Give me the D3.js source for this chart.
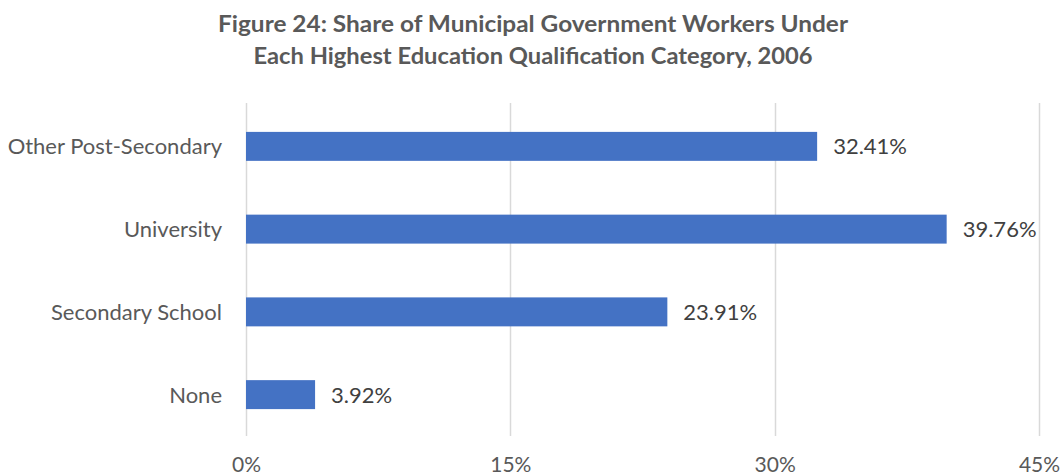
<!DOCTYPE html>
<html>
<head>
<meta charset="utf-8">
<script src="https://cdn.jsdelivr.net/npm/d3@7"></script>
<style>
  html, body { margin: 0; padding: 0; background: #fff; }
  svg { display: block; }
  text { font-family: Lato, "Open Sans", sans-serif; }
</style>
</head>
<body>
<svg id="chart" width="1062" height="475"></svg>
<script>
// Highest education qualification categories, top to bottom
const categories = ["Other Post-Secondary", "University", "Secondary School", "None"];
// Share of municipal government workers (%)
const shares = [32.41, 39.76, 23.91, 3.92];
// Horizontal axis ticks (%)
const tickValues = [0, 15, 30, 45];
const titleLines = [
  "Figure 24: Share of Municipal Government Workers Under",
  "Each Highest Education Qualification Category, 2006"
];

const svg = d3.select("#chart");
const plotLeft = 246, plotRight = 1039, plotTop = 105, plotBottom = 436;

const x = d3.scaleLinear().domain([0, 45]).range([plotLeft, plotRight]);
const y = d3.scaleBand().domain(categories).range([plotTop, plotBottom]).paddingInner(0.65).paddingOuter(0.325);

// Title, two centred lines
const titleWidths = [630, 559];
svg.append("g").selectAll("text")
  .data(titleLines)
  .join("text")
  .attr("x", 533)
  .attr("y", (d, i) => 32 + i * 32)
  .attr("text-anchor", "middle")
  .attr("font-size", 23)
  .attr("font-weight", 700)
  .attr("fill", "#595959")
  .attr("textLength", (d, i) => titleWidths[i])
  .attr("lengthAdjust", "spacingAndGlyphs")
  .text(d => d);

// Vertical gridlines
svg.append("g").selectAll("line")
  .data(tickValues)
  .join("line")
  .attr("x1", d => Math.round(x(d)) + 0.5)
  .attr("x2", d => Math.round(x(d)) + 0.5)
  .attr("y1", 103)
  .attr("y2", plotBottom)
  .attr("stroke", "#d9d9d9")
  .attr("stroke-width", 1.5);

// Bottom axis labels
const xAxis = d3.axisBottom(x).tickValues(tickValues).tickFormat(d => d + "%").tickSize(0).tickPadding(0);
const ax = svg.append("g").attr("transform", "translate(0, 472)").call(xAxis);
ax.select(".domain").remove();
ax.selectAll("text")
  .attr("y", 0)
  .attr("dy", 0)
  .attr("font-size", 21)
  .attr("fill", "#595959")
  .attr("font-family", "Lato, sans-serif");

// Category labels
const yAxis = d3.axisLeft(y).tickSize(0).tickPadding(0);
const ay = svg.append("g").attr("transform", "translate(222, 0)").call(yAxis);
ay.select(".domain").remove();
ay.selectAll("text")
  .attr("font-size", 22)
  .attr("fill", "#595959")
  .attr("dy", "0.36em")
  .attr("font-family", "Lato, sans-serif");

// Bars
const data = categories.map((c, i) => ({ c, v: shares[i] }));
svg.append("g").selectAll("rect")
  .data(data)
  .join("rect")
  .attr("x", x(0))
  .attr("y", d => y(d.c))
  .attr("width", d => x(d.v) - x(0))
  .attr("height", y.bandwidth())
  .attr("fill", "#4472c4");

// Value labels
svg.append("g").selectAll("text")
  .data(data)
  .join("text")
  .attr("x", d => x(d.v) + 16)
  .attr("y", d => y(d.c) + y.bandwidth() / 2)
  .attr("dy", "0.36em")
  .attr("font-size", 22)
  .attr("fill", "#404040")
  .text(d => d.v.toFixed(2) + "%");
</script>
</body>
</html>
